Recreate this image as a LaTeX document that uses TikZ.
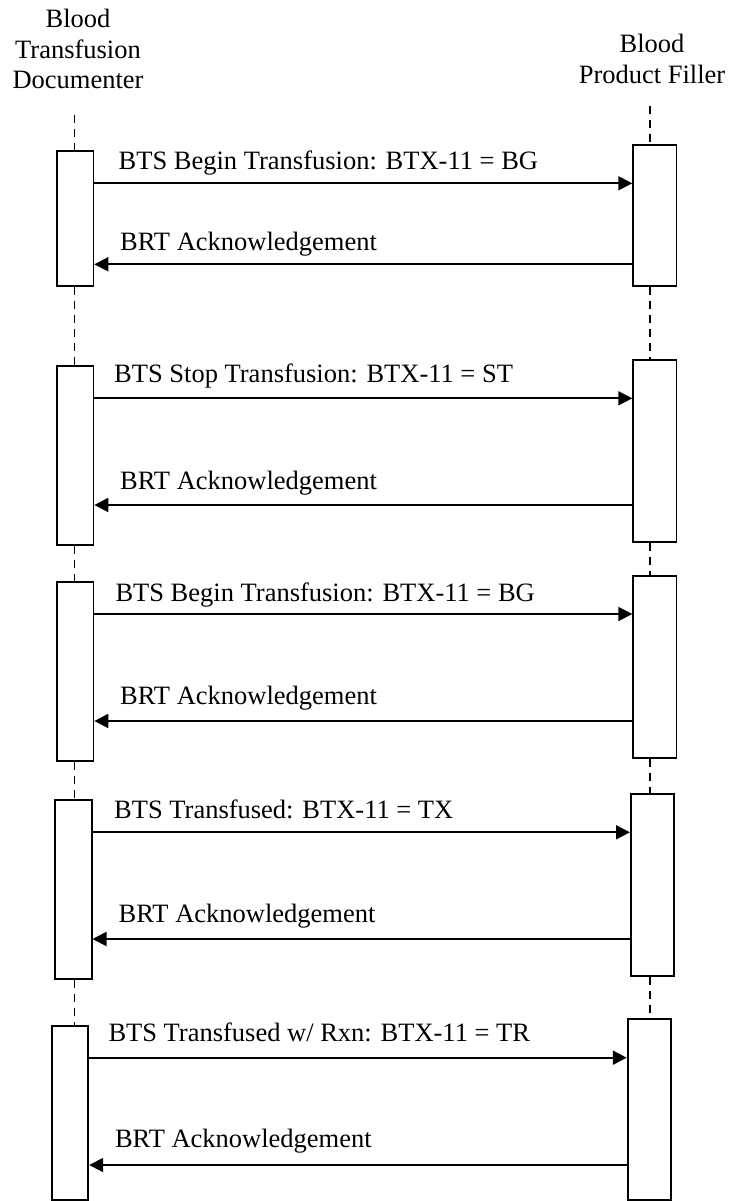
\documentclass[tikz,border=0pt]{standalone}
\usepackage{fontspec}
\setmainfont{Liberation Serif}
\usetikzlibrary{arrows.meta,fit}
\begin{document}
\begin{tikzpicture}[x=1pt,y=-1pt,
  actbox/.style={draw,line width=1.8pt,inner sep=0pt,fill=white},
  life/.style={line width=1.5pt,dash pattern=on 8pt off 6pt},
  msg/.style={line width=1.8pt,-{Triangle[length=14pt,width=14pt]}},
  lbl/.style={anchor=base west,inner sep=0pt,font=\fontsize{26.5}{30.5}\selectfont},
  head/.style={anchor=base,align=center,inner sep=0pt,font=\fontsize{26.5}{30.5}\selectfont}]
\useasboundingbox (0,0) rectangle (729,1201);
% headers (anchor base = baseline of last line)
\node[head] (hL) at (78,89) {Blood\\Transfusion\\Documenter};
\node[head] (hR) at (652,83.3) {Blood\\Product Filler};
% lifeline x positions
\coordinate (Lx) at (74.4,0);
\coordinate (Rx) at (650,0);
\coordinate (Ltop) at (74.4,115);
\coordinate (Rtop) at (650,106);
% activation boxes
\node[actbox,fit={(57.2,150.7) (93.4,286)}] (L1) {};
\node[actbox,fit={(633.2,145) (676.4,286)}] (R1) {};
\node[actbox,fit={(57.2,365.7) (93.4,545)}] (L2) {};
\node[actbox,fit={(633.2,359.7) (676.4,541.7)}] (R2) {};
\node[actbox,fit={(57.2,581.7) (93.4,761)}] (L3) {};
\node[actbox,fit={(633.2,575.7) (676.4,758.3)}] (R3) {};
\node[actbox,fit={(55.3,799.7) (91.6,979)}] (L4) {};
\node[actbox,fit={(630.9,793.7) (674.1,976)}] (R4) {};
\node[actbox,fit={(52.3,1025.7) (88.3,1200)}] (L5) {};
\node[actbox,fit={(627.7,1019) (670.7,1200)}] (R5) {};
% lifelines
\draw[life] (Ltop) -- (Ltop |- L1.north);
\draw[life] (L1.south -| Lx) -- (L2.north -| Lx);
\draw[life] (L2.south -| Lx) -- (L3.north -| Lx);
\draw[life] (L3.south -| Lx) -- (L4.north -| Lx);
\draw[life] (L4.south -| Lx) -- (L5.north -| Lx);
\draw[life] (Rtop) -- (Rtop |- R1.north);
\draw[life] (R1.south -| Rx) -- (R2.north -| Rx);
\draw[life] (R2.south -| Rx) -- (R3.north -| Rx);
\draw[life] (R3.south -| Rx) -- (R4.north -| Rx);
\draw[life] (R4.south -| Rx) -- (R5.north -| Rx);
% message levels
\coordinate (m1) at (0,183.3);
\coordinate (m2) at (0,264.3);
\coordinate (m3) at (0,398.3);
\coordinate (m4) at (0,505);
\coordinate (m5) at (0,614);
\coordinate (m6) at (0,721);
\coordinate (m7) at (0,832.3);
\coordinate (m8) at (0,939);
\coordinate (m9) at (0,1057.7);
\coordinate (m10) at (0,1165);
% messages
\draw[msg] (L1.east |- m1) -- (R1.west |- m1);
\draw[msg] (R1.west |- m2) -- (L1.east |- m2);
\draw[msg] (L2.east |- m3) -- (R2.west |- m3);
\draw[msg] (R2.west |- m4) -- (L2.east |- m4);
\draw[msg] (L3.east |- m5) -- (R3.west |- m5);
\draw[msg] (R3.west |- m6) -- (L3.east |- m6);
\draw[msg] (L4.east |- m7) -- (R4.west |- m7);
\draw[msg] (R4.west |- m8) -- (L4.east |- m8);
\draw[msg] (L5.east |- m9) -- (R5.west |- m9);
\draw[msg] (R5.west |- m10) -- (L5.east |- m10);
% labels
\node[lbl] (t1) at (118.5,170) {BTS Begin Transfusion: BTX-11 = BG};
\node[lbl] (t2) at (120,250.5) {BRT Acknowledgement};
\node[lbl] (t3) at (114,382.7) {BTS Stop Transfusion: BTX-11 = ST};
\node[lbl] (t4) at (120,489) {BRT Acknowledgement};
\node[lbl] (t5) at (115.3,601) {BTS Begin Transfusion: BTX-11 = BG};
\node[lbl] (t6) at (120,704.3) {BRT Acknowledgement};
\node[lbl] (t7) at (114,818.3) {BTS Transfused: BTX-11 = TX};
\node[lbl] (t8) at (118.5,922.3) {BRT Acknowledgement};
\node[lbl] (t9) at (108.3,1041) {BTS Transfused w/ Rxn: BTX-11 = TR};
\node[lbl] (t10) at (114.8,1147.7) {BRT Acknowledgement};
\end{tikzpicture}
\end{document}
